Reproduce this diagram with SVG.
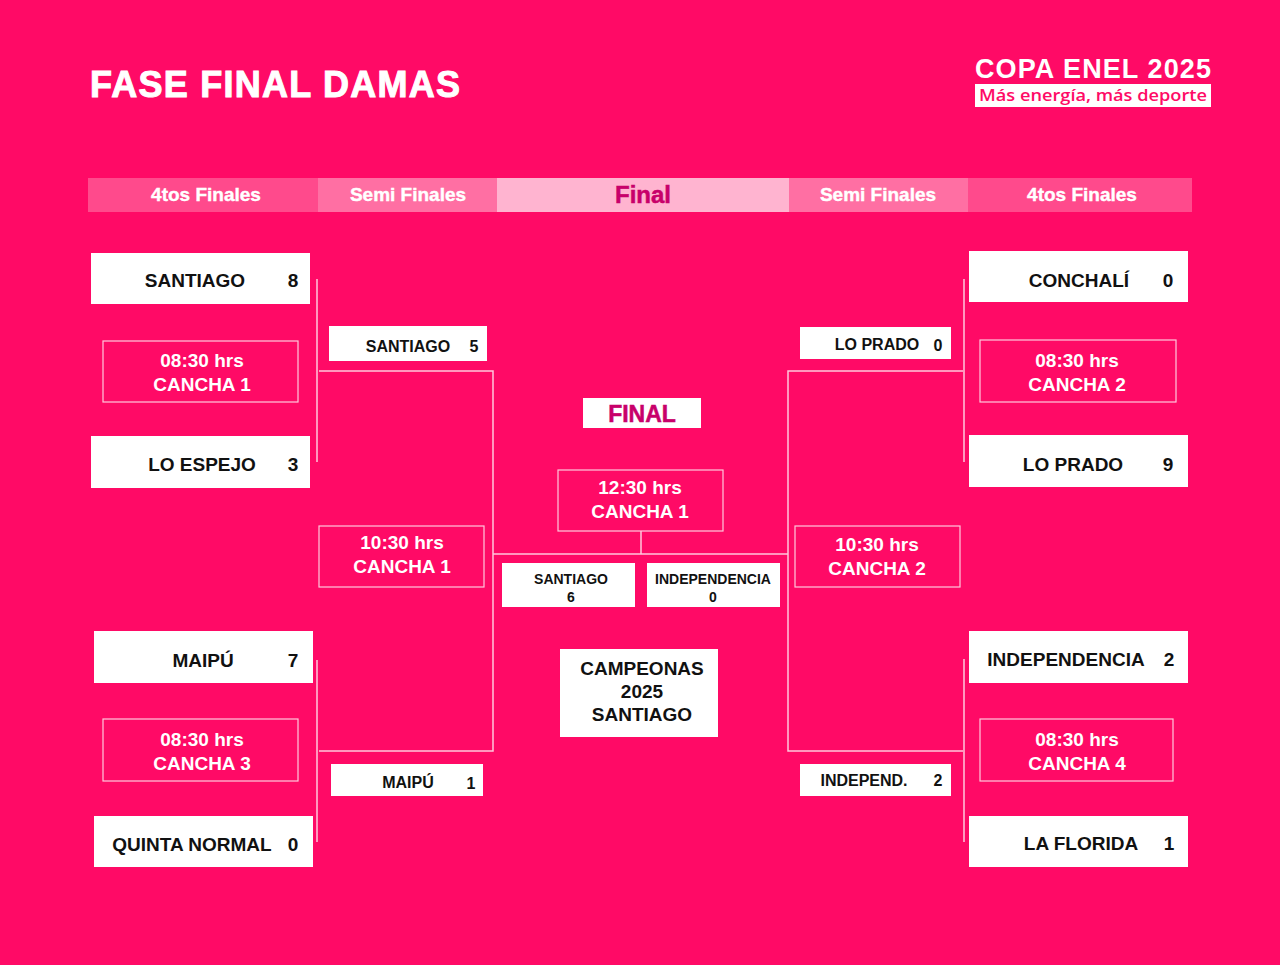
<svg xmlns="http://www.w3.org/2000/svg" width="1280" height="965" viewBox="0 0 1280 965">
<defs>
<style>
.bg{fill:#FF0A66}
.team{fill:#fff}
.tn{font-family:"Liberation Sans",Arial,sans-serif;font-weight:bold;fill:#111;font-size:19px}
.sn{font-family:"Liberation Sans",Arial,sans-serif;font-weight:bold;fill:#111;font-size:16px}
.time{fill:none;stroke:#FFC8DC;stroke-width:1.2}
.tt{font-family:"Liberation Sans",Arial,sans-serif;font-weight:bold;fill:#fff;font-size:19px;text-anchor:middle}
.hd{font-family:"Liberation Sans",Arial,sans-serif;font-weight:bold;fill:#fff;stroke:#fff;stroke-width:0.4;font-size:19px;text-anchor:middle}
.ln{fill:none;stroke:#FFC8DC;stroke-width:1.5}
.mid{text-anchor:middle}
</style>
</defs>
<rect class="bg" x="0" y="0" width="1280" height="965"/>

<g id="title">
<text x="90" y="97" font-family="Liberation Sans,Arial,sans-serif" font-weight="bold" font-size="36" fill="#fff" stroke="#fff" stroke-width="1" textLength="370">FASE FINAL DAMAS</text>
</g>
<g id="logo">
<text x="975" y="78" font-family="Liberation Sans,Arial,sans-serif" font-weight="bold" font-size="27" fill="#fff" textLength="236">COPA ENEL 2025</text>
<rect x="975" y="84" width="236" height="23" fill="#fff"/>
<text x="979" y="101" font-family="Open Sans,Liberation Sans,sans-serif" font-weight="600" font-size="17" fill="#FF0A66" textLength="228" lengthAdjust="spacingAndGlyphs">Más energía, más deporte</text>
</g>

<g id="header">
<rect x="88" y="178" width="230" height="34" fill="#FF4A8C"/>
<rect x="318" y="178" width="179" height="34" fill="#FF6FA3"/>
<rect x="497" y="178" width="292" height="34" fill="#FFB4D0"/>
<rect x="789" y="178" width="179" height="34" fill="#FF6FA3"/>
<rect x="968" y="178" width="224" height="34" fill="#FF4A8C"/>
<text class="hd" x="206" y="201">4tos Finales</text>
<text class="hd" x="408" y="201">Semi Finales</text>
<text x="643" y="203" font-family="Liberation Sans,Arial,sans-serif" font-weight="bold" font-size="24" fill="#C8006A" stroke="#C8006A" stroke-width="0.5" text-anchor="middle">Final</text>
<text class="hd" x="878" y="201">Semi Finales</text>
<text class="hd" x="1082" y="201">4tos Finales</text>
</g>

<g id="connectors">
<path class="ln" d="M317 279V462"/>
<path class="ln" d="M317 660V842"/>
<path class="ln" d="M319 371H493V751H319"/>
<path class="ln" d="M493 554H788"/>
<path class="ln" d="M641 531V554"/>
<path class="ln" d="M963 371H788V751H963"/>
<path class="ln" d="M964 279V462"/>
<path class="ln" d="M964 659V842"/>
</g>

<g id="qf-santiago">
<rect class="team" x="91" y="253" width="219" height="51"/>
<text class="tn mid" x="195" y="287">SANTIAGO</text>
<text class="tn mid" x="293" y="287">8</text>
</g>
<g id="qf-time1">
<rect class="time" x="103" y="341" width="195" height="61"/>
<text class="tt" x="202" y="367">08:30 hrs</text>
<text class="tt" x="202" y="391">CANCHA 1</text>
</g>
<g id="qf-loespejo">
<rect class="team" x="91" y="436" width="219" height="52"/>
<text class="tn mid" x="202" y="471">LO ESPEJO</text>
<text class="tn mid" x="293" y="471">3</text>
</g>
<g id="qf-maipu">
<rect class="team" x="94" y="631" width="219" height="52"/>
<text class="tn mid" x="203" y="667">MAIPÚ</text>
<text class="tn mid" x="293" y="667">7</text>
</g>
<g id="qf-time3">
<rect class="time" x="103" y="719" width="195" height="62"/>
<text class="tt" x="202" y="746">08:30 hrs</text>
<text class="tt" x="202" y="770">CANCHA 3</text>
</g>
<g id="qf-quinta">
<rect class="team" x="94" y="816" width="219" height="51"/>
<text class="tn mid" x="192" y="851">QUINTA NORMAL</text>
<text class="tn mid" x="293" y="851">0</text>
</g>

<g id="sf-santiago">
<rect class="team" x="329" y="326" width="158" height="35"/>
<text class="sn mid" x="408" y="352">SANTIAGO</text>
<text class="sn mid" x="474" y="352">5</text>
</g>
<g id="sf-time1">
<rect class="time" x="319" y="526" width="165" height="61"/>
<text class="tt" x="402" y="549">10:30 hrs</text>
<text class="tt" x="402" y="573">CANCHA 1</text>
</g>
<g id="sf-maipu">
<rect class="team" x="331" y="764" width="152" height="32"/>
<text class="sn mid" x="408" y="788">MAIPÚ</text>
<text class="sn mid" x="471" y="789">1</text>
</g>

<g id="final-label">
<rect x="583" y="398" width="118" height="30" fill="#fff"/>
<text x="642" y="422" font-family="Liberation Sans,Arial,sans-serif" font-weight="bold" font-size="23" fill="#C8006A" stroke="#C8006A" stroke-width="0.5" text-anchor="middle">FINAL</text>
</g>
<g id="final-time">
<rect class="time" x="558" y="470" width="165" height="61"/>
<text class="tt" x="640" y="494">12:30 hrs</text>
<text class="tt" x="640" y="518">CANCHA 1</text>
</g>
<g id="final-santiago">
<rect class="team" x="502" y="563" width="133" height="44"/>
<text class="mid" x="571" y="584" font-family="Liberation Sans,Arial,sans-serif" font-weight="bold" font-size="14" fill="#111">SANTIAGO</text>
<text class="mid" x="571" y="602" font-family="Liberation Sans,Arial,sans-serif" font-weight="bold" font-size="14" fill="#111">6</text>
</g>
<g id="final-independencia">
<rect class="team" x="647" y="563" width="133" height="44"/>
<text class="mid" x="713" y="584" font-family="Liberation Sans,Arial,sans-serif" font-weight="bold" font-size="14" fill="#111">INDEPENDENCIA</text>
<text class="mid" x="713" y="602" font-family="Liberation Sans,Arial,sans-serif" font-weight="bold" font-size="14" fill="#111">0</text>
</g>
<g id="champion">
<rect class="team" x="560" y="649" width="158" height="88"/>
<text class="tn mid" x="642" y="675">CAMPEONAS</text>
<text class="tn mid" x="642" y="698">2025</text>
<text class="tn mid" x="642" y="721">SANTIAGO</text>
</g>

<g id="sf-loprado">
<rect class="team" x="800" y="327" width="151" height="32"/>
<text class="sn mid" x="877" y="350">LO PRADO</text>
<text class="sn mid" x="938" y="351">0</text>
</g>
<g id="sf-time2">
<rect class="time" x="795" y="526" width="165" height="61"/>
<text class="tt" x="877" y="551">10:30 hrs</text>
<text class="tt" x="877" y="575">CANCHA 2</text>
</g>
<g id="sf-independ">
<rect class="team" x="800" y="764" width="151" height="32"/>
<text class="sn mid" x="864" y="786">INDEPEND.</text>
<text class="sn mid" x="938" y="786">2</text>
</g>

<g id="qf-conchali">
<rect class="team" x="969" y="251" width="219" height="51"/>
<text class="tn mid" x="1079" y="287">CONCHALÍ</text>
<text class="tn mid" x="1168" y="287">0</text>
</g>
<g id="qf-time2">
<rect class="time" x="980" y="340" width="196" height="62"/>
<text class="tt" x="1077" y="367">08:30 hrs</text>
<text class="tt" x="1077" y="391">CANCHA 2</text>
</g>
<g id="qf-loprado">
<rect class="team" x="969" y="435" width="219" height="52"/>
<text class="tn mid" x="1073" y="471">LO PRADO</text>
<text class="tn mid" x="1168" y="471">9</text>
</g>
<g id="qf-independencia">
<rect class="team" x="969" y="631" width="219" height="52"/>
<text class="tn mid" x="1066" y="666">INDEPENDENCIA</text>
<text class="tn mid" x="1169" y="666">2</text>
</g>
<g id="qf-time4">
<rect class="time" x="980" y="719" width="193" height="62"/>
<text class="tt" x="1077" y="746">08:30 hrs</text>
<text class="tt" x="1077" y="770">CANCHA 4</text>
</g>
<g id="qf-laflorida">
<rect class="team" x="969" y="816" width="219" height="51"/>
<text class="tn mid" x="1081" y="850">LA FLORIDA</text>
<text class="tn mid" x="1169" y="850">1</text>
</g>
</svg>
